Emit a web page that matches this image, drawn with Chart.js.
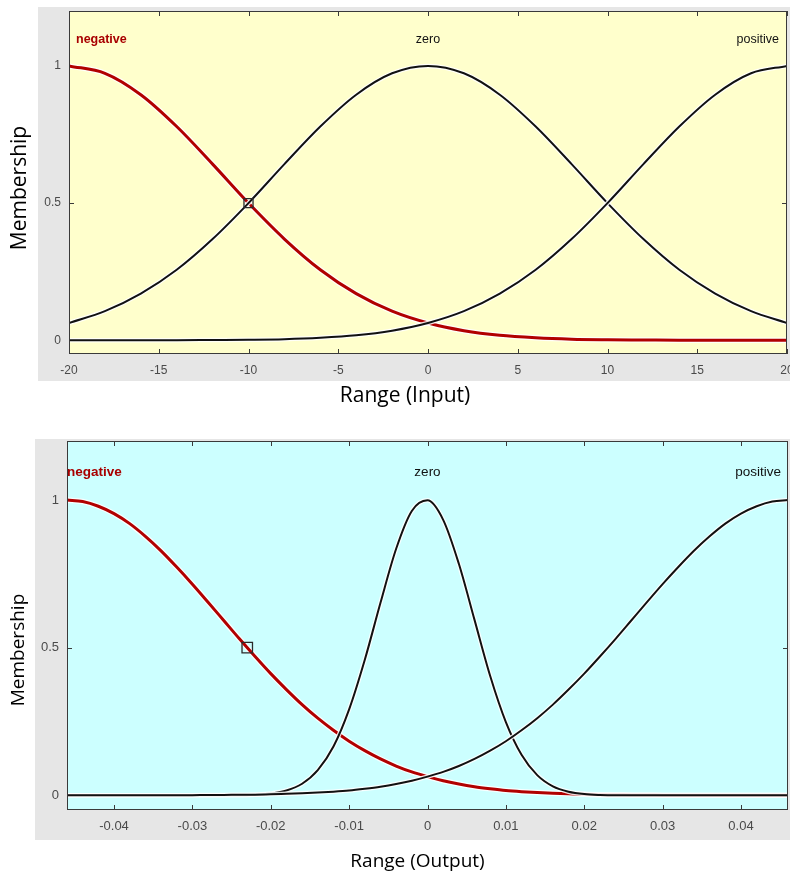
<!DOCTYPE html>
<html><head><meta charset="utf-8">
<script src="https://cdn.jsdelivr.net/npm/chart.js@4.4.0/dist/chart.umd.min.js"></script>
<style>
html,body{margin:0;padding:0;background:#fff;width:790px;height:879px;overflow:hidden}
.wrap{position:absolute;left:0;width:790px}
canvas{display:block}
</style></head><body>
<div class="wrap" style="top:0;height:410px"><canvas id="c1" width="790" height="410"></canvas></div>
<div class="wrap" style="top:430px;height:449px"><canvas id="c2" width="790" height="449"></canvas></div>
<script>
// ---------- data ----------
const yTicks = [0, 0.5, 1];
const mfNames = ['negative', 'zero', 'positive'];

const inputTitle = 'Range (Input)';
const inputXTicks = [-20, -15, -10, -5, 0, 5, 10, 15, 20];
const inputX = [-20,-18,-16,-14,-12,-10,-8,-6,-4,-2,0,2,4,6,8,10,12,14,16,18,20];
const inputNeg  = [1,0.973,0.895,0.779,0.642,0.5,0.369,0.257,0.17,0.106,0.063,0.035,0.018,0.009,0.004,0.002,0.001,0,0,0,0];
const inputZero = [0.063,0.106,0.17,0.257,0.369,0.5,0.642,0.779,0.895,0.973,1,0.973,0.895,0.779,0.642,0.5,0.369,0.257,0.17,0.106,0.063];
const inputPos  = [0,0,0,0,0.001,0.002,0.004,0.009,0.018,0.035,0.063,0.106,0.17,0.257,0.369,0.5,0.642,0.779,0.895,0.973,1];
const inputMarkerX = [-10];
const inputMarkerY = [0.5];

const outputTitle = 'Range (Output)';
const outputXTicks = [-0.04, -0.03, -0.02, -0.01, 0, 0.01, 0.02, 0.03, 0.04];
const outputX = [-0.046,-0.044,-0.042,-0.04,-0.038,-0.036,-0.034,-0.032,-0.03,-0.028,-0.026,-0.024,-0.022,-0.02,-0.018,-0.016,-0.014,-0.012,-0.01,-0.008,-0.006,-0.004,-0.002,0,0.002,0.004,0.006,0.008,0.01,0.012,0.014,0.016,0.018,0.02,0.022,0.024,0.026,0.028,0.03,0.032,0.034,0.036,0.038,0.04,0.042,0.044,0.046];
const outputNeg  = [1,0.995,0.979,0.954,0.92,0.877,0.828,0.773,0.715,0.654,0.592,0.53,0.47,0.412,0.358,0.307,0.261,0.22,0.183,0.151,0.123,0.099,0.079,0.063,0.049,0.038,0.029,0.022,0.016,0.012,0.009,0.007,0.005,0.003,0.002,0.002,0.001,0.001,0,0,0,0,0,0,0,0,0];
const outputZero = [0,0,0,0,0,0,0,0,0,0,0,0,0.002,0.006,0.016,0.039,0.085,0.165,0.291,0.459,0.652,0.835,0.963,0.999,0.933,0.784,0.594,0.404,0.248,0.137,0.068,0.03,0.012,0.004,0.001,0,0,0,0,0,0,0,0,0,0,0,0];
const outputPos  = [0,0,0,0,0,0,0,0,0,0.001,0.001,0.002,0.002,0.003,0.005,0.007,0.009,0.012,0.016,0.022,0.029,0.038,0.049,0.063,0.079,0.099,0.123,0.151,0.183,0.22,0.261,0.307,0.358,0.412,0.47,0.53,0.592,0.654,0.715,0.773,0.828,0.877,0.92,0.954,0.979,0.995,1];
const outputMarkerX = [-0.023];
const outputMarkerY = [0.5];

const yTitle = 'Membership';

// ---------- styling ----------
const RED = '#b10000';
const RED_TEXT = '#a80000';
const BLACK = '#111111';
const HALO = 'rgba(255,255,255,0.85)';

function pts(xs, ys) { return xs.map((x, i) => ({x: x, y: ys[i]})); }

function lineDs(data, color, width, order) {
  return {data: data, borderColor: color, borderWidth: width, pointRadius: 0, pointHoverRadius: 0,
    fill: false, cubicInterpolationMode: 'monotone', clip: 0,
    borderJoinStyle: 'round', borderCapStyle: 'butt', order: order};
}

function makeChart(id, d, g) {
  const negP = pts(d.xs, d.neg), zeroP = pts(d.xs, d.zero), posP = pts(d.xs, d.pos);
  let peakIdx = 0;
  d.zero.forEach((v, i) => { if (v > d.zero[peakIdx]) peakIdx = i; });
  const zeroPeakX = d.xs[peakIdx];

  const panel = {
    id: 'panel',
    beforeDraw(chart) {
      const {ctx, chartArea: a} = chart;
      ctx.save();
      ctx.fillStyle = '#e6e6e6';
      const gx = a.left - g.gray.left, gy = a.top - g.gray.top;
      ctx.fillRect(gx, gy, chart.width - gx, a.bottom + g.gray.bottom - gy);
      ctx.fillStyle = g.bg;
      ctx.fillRect(a.left, a.top, a.right - a.left, a.bottom - a.top);
      ctx.restore();
    },
    beforeDatasetsDraw(chart) {
      const {ctx, chartArea: a, scales} = chart;
      ctx.save();
      ctx.strokeStyle = '#3a3a3a';
      ctx.lineWidth = 1;
      ctx.beginPath();
      d.xTicks.forEach(v => {
        const px = Math.round(scales.x.getPixelForValue(v)) + 0.5;
        ctx.moveTo(px, a.bottom); ctx.lineTo(px, a.bottom - 5);
        ctx.moveTo(px, a.top); ctx.lineTo(px, a.top + 5);
      });
      yTicks.forEach(v => {
        const py = Math.round(scales.y.getPixelForValue(v)) + 0.5;
        ctx.moveTo(a.left, py); ctx.lineTo(a.left + 5, py);
        ctx.moveTo(a.right, py); ctx.lineTo(a.right - 5, py);
      });
      ctx.stroke();
      ctx.restore();
    },
    afterDatasetsDraw(chart) {
      const {ctx, chartArea: a, scales} = chart;
      ctx.save();
      ctx.strokeStyle = '#3a3a3a';
      ctx.lineWidth = 1;
      ctx.strokeRect(Math.round(a.left) + 0.5, Math.round(a.top) + 0.5,
        Math.round(a.right - a.left) - 1, Math.round(a.bottom - a.top) - 1);
      // membership function names
      const ly = a.top + g.labelY;
      ctx.textBaseline = 'middle';
      ctx.font = 'bold ' + g.mfFont + 'px "Liberation Sans", Arial, sans-serif';
      ctx.fillStyle = RED_TEXT;
      ctx.textAlign = 'left';
      ctx.fillText(mfNames[0], a.left + g.negDx, ly);
      ctx.font = g.mfFont + 'px "Liberation Sans", Arial, sans-serif';
      ctx.fillStyle = '#111';
      ctx.textAlign = 'center';
      ctx.fillText(mfNames[1], scales.x.getPixelForValue(zeroPeakX), ly);
      ctx.textAlign = 'right';
      ctx.fillText(mfNames[2], a.right - g.posDx, ly);
      ctx.restore();
    },
    afterDraw(chart) {
      const {ctx, chartArea: a} = chart;
      ctx.save();
      ctx.fillStyle = '#000';
      ctx.font = g.titleFont + 'px "Open Sans", "Noto Sans", sans-serif';
      ctx.textAlign = 'center';
      ctx.textBaseline = 'middle';
      ctx.fillText(d.title, (a.left + a.right) / 2 + g.xTitleDx, g.xTitleY);
      ctx.translate(g.yTitleX, (a.top + a.bottom) / 2 + g.yTitleDy);
      ctx.rotate(-Math.PI / 2);
      ctx.fillText(yTitle, 0, 0);
      ctx.restore();
    }
  };

  const tickFont = {family: '"Liberation Sans", Arial, sans-serif', size: g.tickFont};
  return new Chart(document.getElementById(id), {
    type: 'line',
    data: {
      datasets: [
        lineDs(negP, HALO, 5.5, 6),
        lineDs(negP, RED, 3, 5),
        lineDs(zeroP, HALO, 4.5, 4),
        lineDs(zeroP, BLACK, 2, 3),
        lineDs(posP, HALO, 4.5, 2),
        lineDs(posP, BLACK, 2, 1),
        {data: pts(d.markerX, d.markerY), showLine: false, pointStyle: 'rect',
         pointRadius: g.markerR, pointHoverRadius: g.markerR, pointBorderColor: '#2a2a2a',
         pointBackgroundColor: 'rgba(0,0,0,0)', pointBorderWidth: 1.3, clip: false, order: 0}
      ]
    },
    options: {
      responsive: false, animation: false, events: [],
      layout: {autoPadding: false, padding: {top: g.padTop, right: g.padRight, left: 0, bottom: 0}},
      plugins: {legend: {display: false}, tooltip: {enabled: false}},
      scales: {
        x: {
          type: 'linear', min: d.xMin, max: d.xMax,
          grid: {display: false, drawTicks: false}, border: {display: false},
          ticks: {font: tickFont, color: '#4a4a4a', padding: g.xTickPad, maxRotation: 0, autoSkip: false,
                  callback: v => String(v)},
          afterBuildTicks(s) { s.ticks = d.xTicks.map(v => ({value: v})); },
          afterFit(s) { s.height = g.xAxisHeight; s.paddingLeft = 0; s.paddingRight = 0; }
        },
        y: {
          type: 'linear', min: -0.05, max: 1.2,
          grid: {display: false, drawTicks: false}, border: {display: false},
          ticks: {font: tickFont, color: '#4a4a4a', padding: g.yTickPad, autoSkip: false,
                  callback: v => String(v)},
          afterBuildTicks(s) { s.ticks = yTicks.map(v => ({value: v})); },
          afterFit(s) { s.width = g.yAxisWidth; s.paddingTop = 0; s.paddingBottom = 0; }
        }
      }
    },
    plugins: [panel]
  });
}

makeChart('c1',
  {xs: inputX, neg: inputNeg, zero: inputZero, pos: inputPos, xTicks: inputXTicks,
   xMin: -20, xMax: 20, markerX: inputMarkerX, markerY: inputMarkerY, title: inputTitle},
  {bg: '#ffffcc', yAxisWidth: 69, xAxisHeight: 56, padTop: 11, padRight: 3,
   gray: {left: 31, top: 4, bottom: 27}, labelY: 29, negDx: 7, posDx: 8,
   tickFont: 12, xTickPad: 9, yTickPad: 8, mfFont: 12.5, titleFont: 21,
   yTitleX: 20, yTitleDy: 5.5, xTitleDx: -23, xTitleY: 396, markerR: 6.4});

makeChart('c2',
  {xs: outputX, neg: outputNeg, zero: outputZero, pos: outputPos, xTicks: outputXTicks,
   xMin: -0.046, xMax: 0.046, markerX: outputMarkerX, markerY: outputMarkerY, title: outputTitle},
  {bg: '#ccffff', yAxisWidth: 67, xAxisHeight: 69, padTop: 11, padRight: 2,
   gray: {left: 32, top: 2, bottom: 30}, labelY: 31, negDx: 0, posDx: 7,
   tickFont: 13, xTickPad: 9, yTickPad: 8, mfFont: 13.5, titleFont: 19,
   yTitleX: 19, yTitleDy: 24.5, xTitleDx: -10, xTitleY: 432, markerR: 7.4});
</script>
</body></html>
